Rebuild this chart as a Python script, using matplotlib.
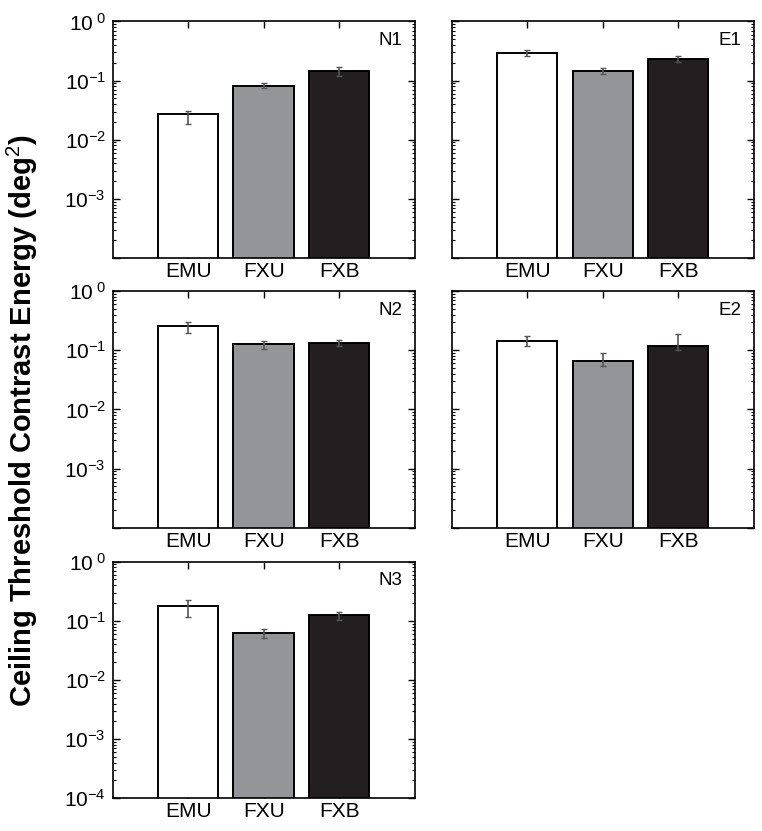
import numpy as np
import matplotlib
matplotlib.use('Agg')
import matplotlib.pyplot as plt
from matplotlib.ticker import FixedLocator, LogLocator, NullFormatter
from matplotlib.transforms import ScaledTranslation

plt.rcParams['font.family'] = ['Liberation Sans', 'DejaVu Sans']
plt.rcParams['mathtext.fontset'] = 'custom'
plt.rcParams['mathtext.rm'] = 'Liberation Sans'
plt.rcParams['mathtext.it'] = 'Liberation Sans'

# data
conditions = ['EMU', 'FXU', 'FXB']
panels = ['N1', 'E1', 'N2', 'E2', 'N3']
means = {
    'N1': [0.027, 0.082, 0.143],
    'E1': [0.295, 0.147, 0.231],
    'N2': [0.259, 0.127, 0.133],
    'E2': [0.144, 0.067, 0.116],
    'N3': [0.175, 0.063, 0.125],
}
err_lo = {
    'N1': [0.0183, 0.0748, 0.121],
    'E1': [0.264, 0.131, 0.203],
    'N2': [0.195, 0.107, 0.117],
    'E2': [0.117, 0.0551, 0.1016],
    'N3': [0.116, 0.0503, 0.1015],
}
err_hi = {
    'N1': [0.0311, 0.091, 0.169],
    'E1': [0.324, 0.163, 0.257],
    'N2': [0.303, 0.144, 0.148],
    'E2': [0.171, 0.0893, 0.187],
    'N3': [0.221, 0.0734, 0.1425],
}
colors = ['white', '#939598', '#231f20']

fig = plt.figure(figsize=(7.62, 8.31), dpi=100)

lefts = [0.148, 0.593]
bottoms = [0.6895, 0.365, 0.0394]
w, h = 0.396, 0.2847

x = np.arange(1, 4)
for i, name in enumerate(panels):
    row, col = i // 2, i % 2
    ax = fig.add_axes([lefts[col], bottoms[row], w, h])
    m = np.array(means[name])
    lo = m - np.array(err_lo[name])
    hi = np.array(err_hi[name]) - m
    ax.bar(x, m, width=0.8, color=colors, edgecolor='black', linewidth=1.4, zorder=2)
    ax.errorbar(x, m, yerr=[lo, hi], fmt='none', ecolor='#555555',
                elinewidth=1.2, capsize=2, capthick=1, zorder=3)
    ax.set_yscale('log')
    ax.set_ylim(1e-4, 1)
    ax.set_xlim(0, 4)
    ax.set_xticks(x)
    ax.set_xticklabels(conditions, fontsize=15)
    majors = [1e-4, 1e-3, 1e-2, 1e-1, 1]
    ax.yaxis.set_major_locator(FixedLocator(majors))
    ax.yaxis.set_minor_locator(LogLocator(base=10, subs=np.arange(2, 10)))
    ax.yaxis.set_minor_formatter(NullFormatter())
    if col == 0:
        labs = ['$10^{-4}$' if row == 2 else '', '$10^{-3}$', '$10^{-2}$',
                '$10^{-1}$', '$10^{\\ 0}$']
        ax.set_yticklabels(labs, fontsize=15)
        for lab in ax.get_yticklabels():
            lab.set_transform(lab.get_transform() +
                              ScaledTranslation(0, -4 / 72, fig.dpi_scale_trans))
    else:
        ax.set_yticklabels([])
    ax.tick_params(which='both', direction='in', top=True, right=True)
    ax.tick_params(which='major', length=5, width=1)
    ax.tick_params(which='minor', length=2.5, width=0.8)
    ax.tick_params(axis='x', pad=3)
    ax.tick_params(axis='y', pad=5)
    for s in ax.spines.values():
        s.set_linewidth(1.2)
    ax.text(0.96, 0.92, name, transform=ax.transAxes, ha='right', va='center',
            fontsize=13.5)

fig.text(0.029, 0.494, 'Ceiling Threshold Contrast Energy (deg$^2$)',
         rotation=90, ha='center', va='center', fontsize=21, fontweight='bold')

plt.savefig('out.png', dpi=100)
